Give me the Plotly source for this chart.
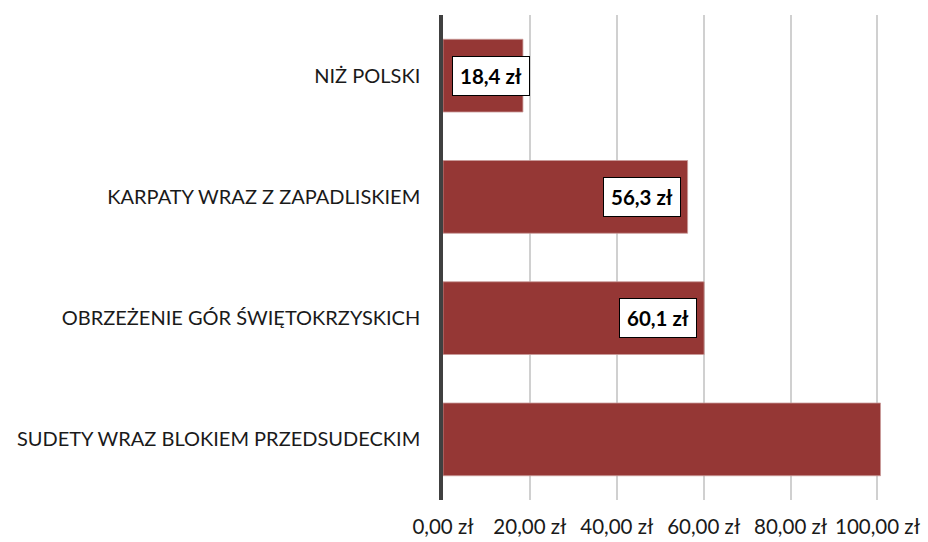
import plotly.graph_objects as go

# Regions (top to bottom) and their values in zł
regions = [
    "NIŻ POLSKI",
    "KARPATY WRAZ Z ZAPADLISKIEM",
    "OBRZEŻENIE GÓR ŚWIĘTOKRZYSKICH",
    "SUDETY WRAZ BLOKIEM PRZEDSUDECKIM",
]
values = [18.4, 56.3, 60.1, 100.7]
labels = ["18,4 zł", "56,3 zł", "60,1 zł", None]

tick_vals = [0, 20, 40, 60, 80, 100]
tick_text = ["0,00 zł", "20,00 zł", "40,00 zł", "60,00 zł", "80,00 zł", "100,00 zł"]

bar_color = "#953735"
font_family = "Lato, 'Open Sans', sans-serif"

fig = go.Figure(
    go.Bar(
        y=regions,
        x=values,
        orientation="h",
        width=0.6,
        marker=dict(color=bar_color, line=dict(color="#c99a99", width=0.8)),
        cliponaxis=False,
        hoverinfo="skip",
    )
)

# Value boxes inside the bar ends
for reg, val, lab in zip(regions, values, labels):
    if not lab:
        continue
    if val < 25:
        ax_x, anchor, shift = 0, "left", 9
    else:
        ax_x, anchor, shift = val, "right", -7
    fig.add_annotation(
        x=ax_x,
        y=reg,
        text=f"<b>{lab}</b>",
        showarrow=False,
        xanchor=anchor,
        xshift=shift,
        font=dict(family=font_family, size=20.5, color="black"),
        bgcolor="white",
        bordercolor="black",
        borderwidth=1,
        borderpad=7,
    )

fig.update_layout(
    width=928,
    height=542,
    margin=dict(l=443, r=44, t=15, b=42),
    plot_bgcolor="white",
    paper_bgcolor="white",
    showlegend=False,
    font=dict(family=font_family, size=20, color="#1a1a1a"),
    bargap=0.4,
)

fig.update_xaxes(
    range=[0, 101.5],
    tickvals=tick_vals,
    ticktext=tick_text,
    showgrid=True,
    gridcolor="#d0d0d0",
    gridwidth=1.5,
    zeroline=False,
    showline=False,
    ticks="",
    ticklabelstandoff=12,
    tickfont=dict(size=20.5),
    automargin=False,
    fixedrange=True,
)

fig.update_yaxes(
    autorange="reversed",
    showline=True,
    linecolor="#404040",
    linewidth=3.5,
    showgrid=False,
    ticks="",
    ticklabelstandoff=15,
    tickfont=dict(size=20),
    automargin=False,
    fixedrange=True,
)

fig.write_html("out.html")
